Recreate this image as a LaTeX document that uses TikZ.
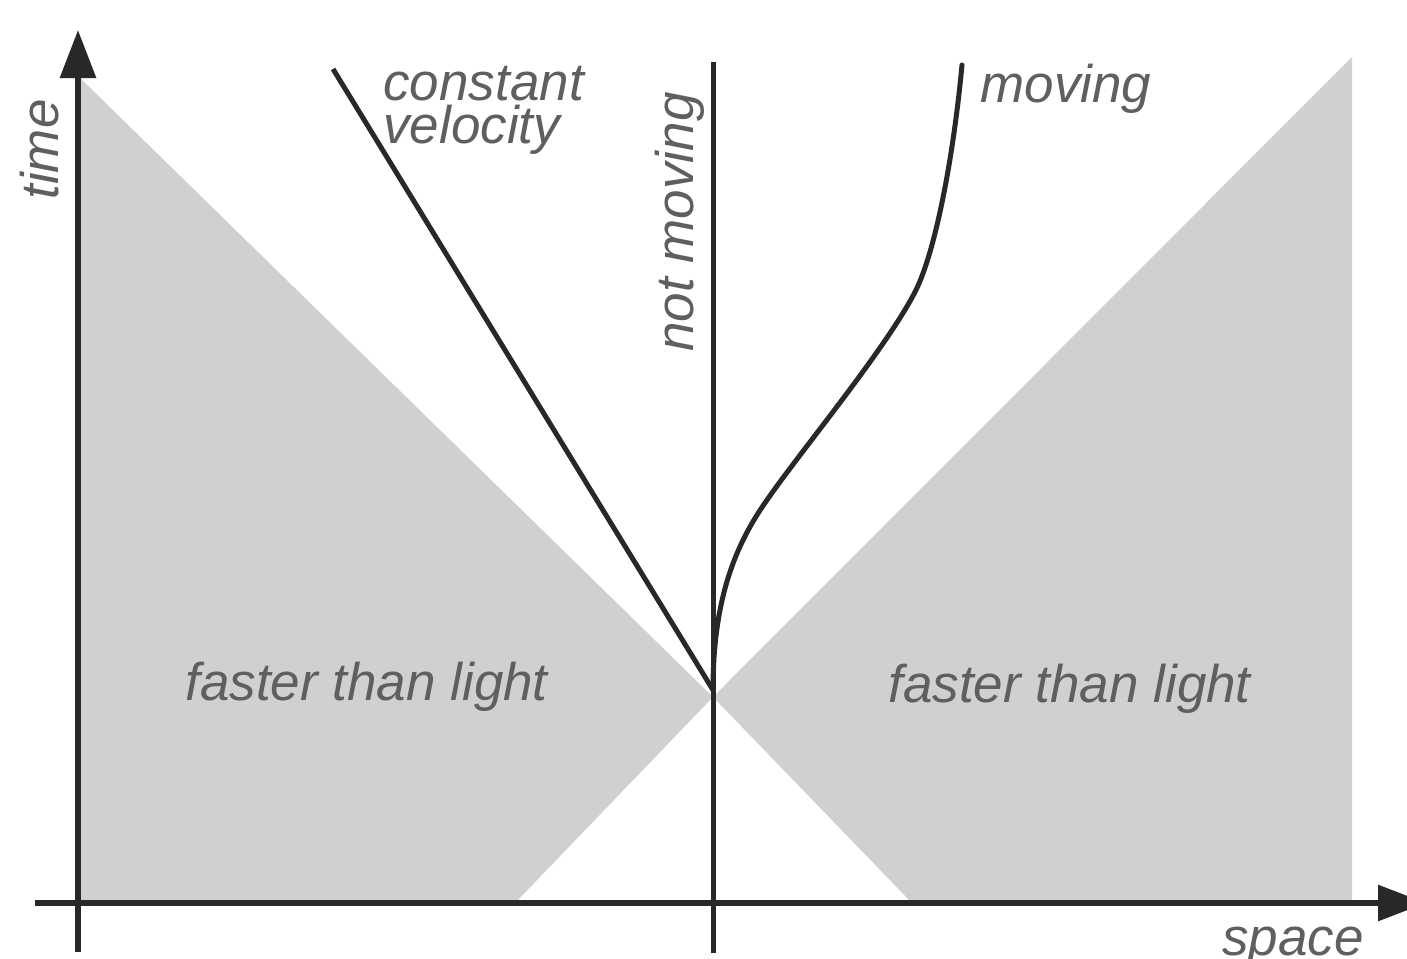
\documentclass[tikz,border=0pt]{standalone}
\usepackage{fontspec}
\setmainfont{Liberation Sans}
\usetikzlibrary{arrows.meta}
\definecolor{conegray}{RGB}{208,208,208}
\definecolor{inkline}{RGB}{40,40,40}
\definecolor{inktext}{RGB}{95,95,95}
\begin{document}
\begin{tikzpicture}[x=0.5pt,y=-0.5pt,
  axisline/.style={draw=inkline,line width=3pt,-{Triangle[length=24pt,width=17.5pt]}},
  worldline/.style={draw=inkline,line width=2.5pt},
  lbl/.style={inner sep=0pt,text=inktext,font=\fontsize{26.5}{26.5}\selectfont\itshape,anchor=base west}]
\useasboundingbox (0,0) rectangle (1407,958);
% named points
\coordinate (event) at (713,690);
\coordinate (cross) at (713,697);
\coordinate (origin) at (78,903);
\coordinate (tbot) at (78,952);
\coordinate (ttop) at (78,30);
\coordinate (sleft) at (35,903);
\coordinate (sright) at (1426,903);
\coordinate (nmtop) at (713,62);
\coordinate (nmbot) at (713,953);
\coordinate (cvtop) at (333,69);
\coordinate (mvtop) at (962,65);
% light-cone exteriors
\fill[conegray] (78,76) -- (cross) -- (515,903) -- (78,903) -- cycle;
\fill[conegray] (cross) -- (1352,57) -- (1352,903) -- (912,903) -- cycle;
% axes
\draw[axisline] (sleft) -- (sright);
\draw[axisline] (tbot) -- (ttop);
% world lines
\draw[worldline] (nmbot) -- (nmtop);
\draw[worldline] (cvtop) -- (event);
\draw[worldline,line cap=round] (event) .. controls (713,600) and (735,545) .. (767,500)
  .. controls (800,452) and (885,350) .. (915,292)
  .. controls (935,253) and (953,160) .. (mvtop);
% labels
\node[lbl,rotate=90] (ltime) at (58,200) {time};
\node[lbl] (lcv1) at (383,100) {constant};
\node[lbl] (lcv2) at (383,143) {velocity};
\node[lbl,rotate=90] (lnm) at (693,352) {not moving};
\node[lbl] (lmv) at (980,102) {moving};
\node[lbl] (lftl1) at (185,700) {faster than light};
\node[lbl] (lftl2) at (888,702) {faster than light};
\node[lbl] (lspace) at (1222,955) {space};
\end{tikzpicture}
\end{document}
